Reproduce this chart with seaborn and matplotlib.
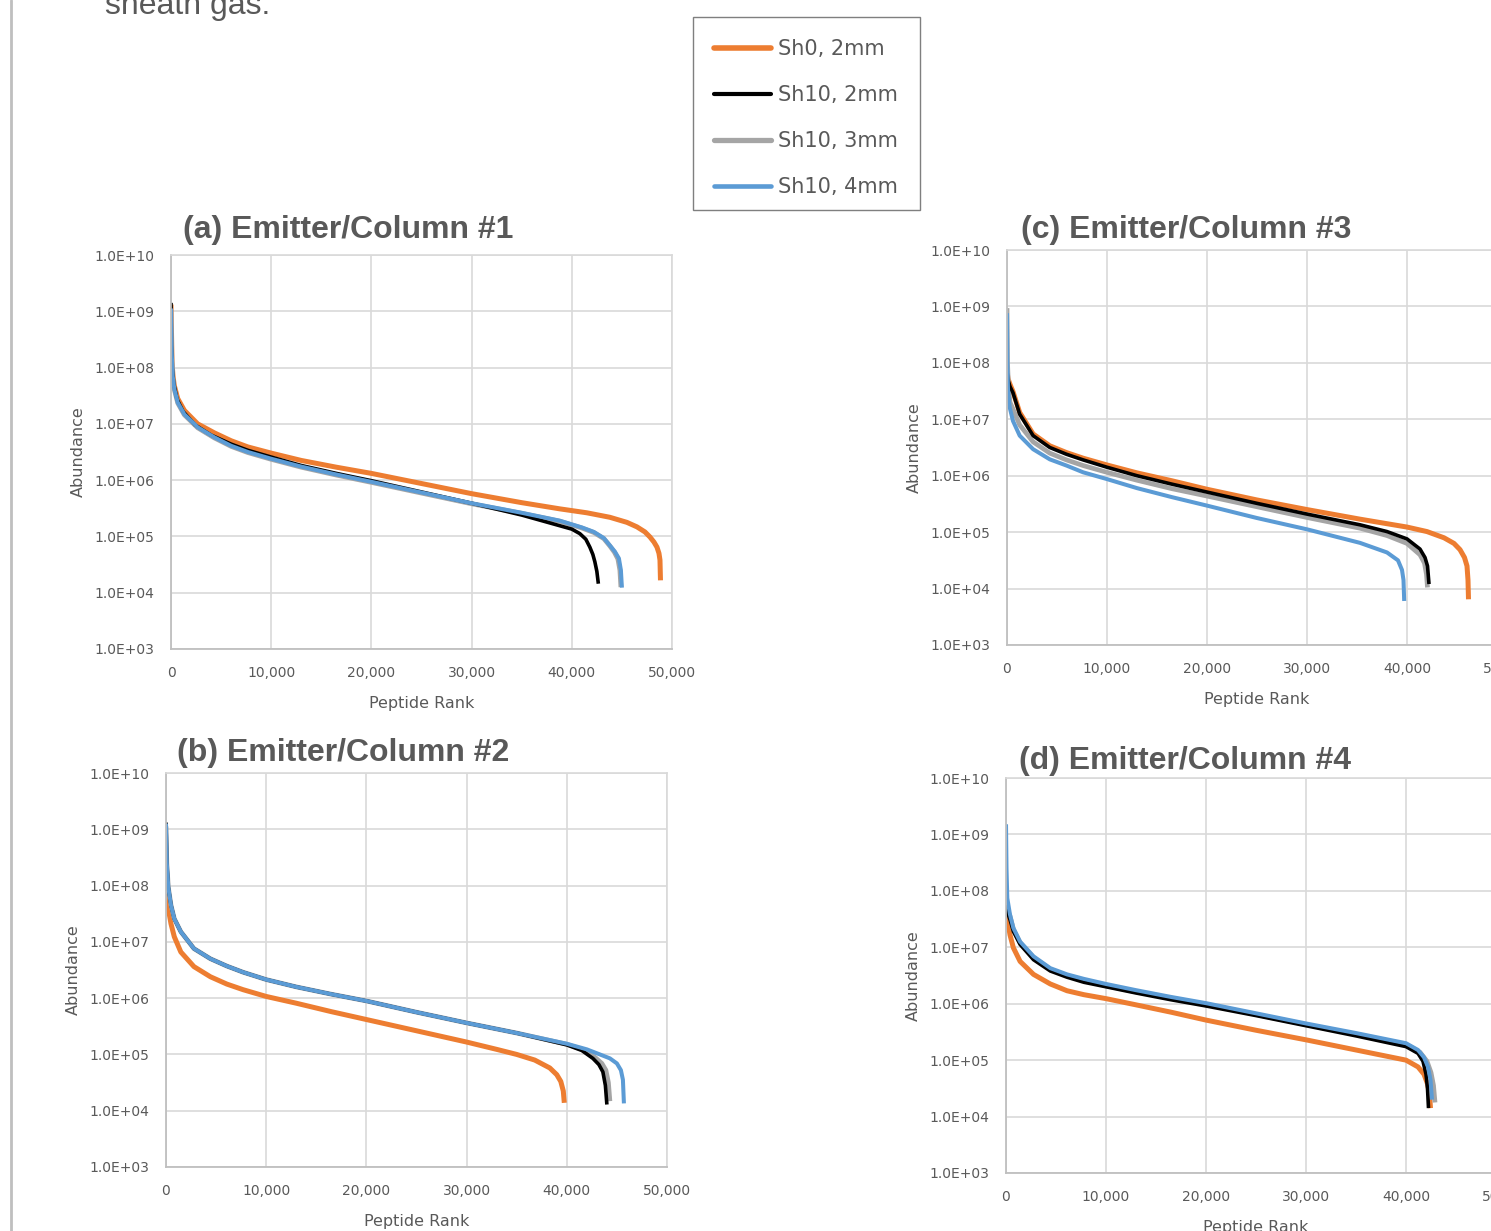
import numpy as np
import matplotlib
matplotlib.use("Agg")
import matplotlib.pyplot as plt
from matplotlib.lines import Line2D
from matplotlib.patches import Rectangle
from matplotlib.ticker import FixedLocator, FuncFormatter, NullLocator
import seaborn as sns

# ---------------- data ----------------
SERIES = ["Sh0, 2mm", "Sh10, 2mm", "Sh10, 3mm", "Sh10, 4mm"]
COLORS = ["#ED7D31", "#000000", "#A5A5A5", "#5B9BD5"]
TITLES = ["(a) Emitter/Column #1", "(b) Emitter/Column #2",
          "(c) Emitter/Column #3", "(d) Emitter/Column #4"]
Y_TICKS = [1e3, 1e4, 1e5, 1e6, 1e7, 1e8, 1e9, 1e10]
X_TICKS = [0, 10000, 20000, 30000, 40000, 50000]

# Panel (a) -- peptide rank and log10(abundance)
A_SH0_RANK = [0, 100, 200, 330, 670, 1330, 2660, 4330, 6000, 7670, 10000, 13000, 16500, 20000, 25000, 30000, 35000, 38800, 41500, 43800, 45500, 46500, 47300, 47800, 48200, 48500, 48700, 48800, 48850]
A_SH0_LOG = [9.12, 8.10, 7.85, 7.68, 7.45, 7.24, 7.00, 6.84, 6.70, 6.59, 6.48, 6.35, 6.23, 6.12, 5.94, 5.76, 5.60, 5.49, 5.42, 5.34, 5.25, 5.17, 5.08, 4.99, 4.90, 4.81, 4.70, 4.58, 4.22]
A_SH10_2_RANK = [0, 40, 120, 270, 600, 1200, 2400, 4000, 6000, 7670, 10000, 13000, 16500, 20000, 25000, 30000, 35000, 38800, 40000, 40800, 41400, 41800, 42100, 42300, 42500, 42650]
A_SH10_2_LOG = [9.15, 8.40, 8.00, 7.72, 7.44, 7.22, 6.98, 6.80, 6.64, 6.53, 6.41, 6.26, 6.12, 5.99, 5.79, 5.59, 5.38, 5.19, 5.13, 5.05, 4.95, 4.81, 4.68, 4.55, 4.38, 4.16]
A_SH10_3_RANK = [0, 60, 170, 330, 670, 1330, 2660, 4330, 6000, 7670, 10000, 13000, 16500, 20000, 25000, 30000, 35000, 38800, 41000, 42200, 43200, 43800, 44250, 44600, 44800, 44900]
A_SH10_3_LOG = [9.02, 8.28, 7.84, 7.61, 7.37, 7.16, 6.93, 6.75, 6.60, 6.49, 6.37, 6.23, 6.09, 5.96, 5.77, 5.58, 5.41, 5.27, 5.15, 5.07, 4.96, 4.83, 4.72, 4.60, 4.40, 4.10]
A_SH10_4_RANK = [0, 60, 170, 330, 670, 1330, 2660, 4330, 6000, 7670, 10000, 13000, 16500, 20000, 25000, 30000, 35000, 38800, 41000, 42200, 43200, 43800, 44300, 44700, 44900, 45000]
A_SH10_4_LOG = [9.05, 8.30, 7.85, 7.62, 7.38, 7.17, 6.94, 6.76, 6.61, 6.50, 6.38, 6.24, 6.10, 5.97, 5.78, 5.59, 5.42, 5.28, 5.16, 5.08, 4.97, 4.84, 4.73, 4.61, 4.40, 4.09]

# Panel (b)
B_SH0_RANK = [0, 100, 230, 500, 830, 1480, 2790, 4430, 6070, 7700, 10000, 13000, 16500, 20000, 25000, 30000, 33000, 35000, 36800, 38300, 39000, 39400, 39650, 39750]
B_SH0_LOG = [7.85, 7.70, 7.59, 7.32, 7.09, 6.82, 6.56, 6.38, 6.25, 6.15, 6.03, 5.91, 5.76, 5.62, 5.42, 5.22, 5.09, 5.00, 4.90, 4.76, 4.64, 4.52, 4.35, 4.14]
B_SH10_2_RANK = [0, 80, 230, 500, 830, 1480, 2790, 4430, 6070, 7700, 10000, 13000, 16500, 20000, 25000, 30000, 35000, 40000, 41500, 42600, 43200, 43600, 43850, 44000]
B_SH10_2_LOG = [9.12, 8.40, 7.97, 7.65, 7.41, 7.18, 6.88, 6.70, 6.57, 6.46, 6.33, 6.20, 6.07, 5.95, 5.75, 5.56, 5.38, 5.17, 5.07, 4.93, 4.82, 4.69, 4.45, 4.11]
B_SH10_3_RANK = [0, 80, 230, 500, 830, 1480, 2790, 4430, 6070, 7700, 10000, 13000, 16500, 20000, 25000, 30000, 35000, 40000, 41700, 42800, 43500, 43900, 44150, 44300]
B_SH10_3_LOG = [9.05, 8.40, 7.97, 7.65, 7.41, 7.18, 6.88, 6.70, 6.57, 6.46, 6.33, 6.20, 6.07, 5.95, 5.75, 5.56, 5.38, 5.18, 5.08, 4.95, 4.84, 4.72, 4.50, 4.17]
B_SH10_4_RANK = [0, 80, 230, 500, 830, 1480, 2790, 4430, 6070, 7700, 10000, 13000, 16500, 20000, 25000, 30000, 35000, 40000, 42000, 43300, 44300, 45000, 45400, 45600, 45700]
B_SH10_4_LOG = [9.10, 8.40, 7.97, 7.65, 7.41, 7.18, 6.88, 6.70, 6.57, 6.46, 6.33, 6.20, 6.07, 5.95, 5.75, 5.56, 5.38, 5.19, 5.09, 5.00, 4.93, 4.84, 4.72, 4.55, 4.13]

# Panel (c)
C_SH0_RANK = [0, 100, 300, 600, 1270, 2610, 4280, 5950, 7620, 10000, 13000, 16500, 20000, 25000, 30000, 35300, 40000, 42000, 43700, 44700, 45300, 45750, 46000, 46100, 46150]
C_SH0_LOG = [7.85, 7.72, 7.62, 7.49, 7.12, 6.74, 6.53, 6.41, 6.31, 6.19, 6.05, 5.91, 5.76, 5.57, 5.40, 5.23, 5.09, 5.01, 4.90, 4.80, 4.69, 4.55, 4.40, 4.15, 3.81]
C_SH10_2_RANK = [0, 100, 300, 600, 1270, 2610, 4280, 5950, 7620, 10000, 13000, 16500, 20000, 25000, 30000, 35300, 38000, 40000, 41300, 41800, 42050, 42200]
C_SH10_2_LOG = [7.85, 7.70, 7.58, 7.47, 7.09, 6.71, 6.50, 6.38, 6.28, 6.15, 6.00, 5.85, 5.71, 5.51, 5.32, 5.13, 5.01, 4.88, 4.70, 4.55, 4.40, 4.08]
C_SH10_3_RANK = [0, 50, 150, 300, 600, 1270, 2610, 4280, 5950, 7620, 10000, 13000, 16500, 20000, 25000, 30000, 35300, 38000, 40000, 41300, 41750, 41950, 42050]
C_SH10_3_LOG = [8.97, 8.00, 7.55, 7.30, 7.18, 6.90, 6.60, 6.40, 6.28, 6.18, 6.06, 5.92, 5.77, 5.64, 5.45, 5.26, 5.07, 4.94, 4.80, 4.60, 4.45, 4.25, 4.02]
C_SH10_4_RANK = [0, 40, 100, 270, 600, 1270, 2610, 4280, 5950, 7620, 10000, 13000, 16500, 20000, 25000, 30000, 35300, 38000, 39100, 39500, 39650, 39720]
C_SH10_4_LOG = [8.88, 8.00, 7.53, 7.21, 6.97, 6.71, 6.47, 6.29, 6.18, 6.06, 5.94, 5.78, 5.62, 5.47, 5.25, 5.05, 4.81, 4.64, 4.50, 4.33, 4.15, 3.78]

# Panel (d)
D_SH0_RANK = [0, 130, 400, 740, 1410, 2750, 4430, 6100, 7790, 10000, 13000, 16500, 20000, 25000, 30000, 35000, 40000, 41200, 41800, 42150, 42350, 42450]
D_SH0_LOG = [7.72, 7.52, 7.22, 6.99, 6.75, 6.52, 6.35, 6.23, 6.16, 6.09, 5.98, 5.85, 5.71, 5.53, 5.36, 5.18, 5.00, 4.88, 4.75, 4.58, 4.40, 4.15]
D_SH10_2_RANK = [0, 150, 400, 740, 1410, 2750, 4430, 6100, 7790, 10000, 13000, 16500, 20000, 25000, 30000, 35000, 40000, 41200, 41700, 42000, 42150, 42250]
D_SH10_2_LOG = [7.75, 7.62, 7.49, 7.28, 7.05, 6.78, 6.58, 6.47, 6.38, 6.30, 6.19, 6.07, 5.96, 5.79, 5.61, 5.43, 5.24, 5.12, 4.98, 4.75, 4.50, 4.15]
D_SH10_3_RANK = [0, 150, 400, 740, 1410, 2750, 4430, 6100, 7790, 10000, 13000, 16500, 20000, 25000, 30000, 35000, 40000, 41400, 42100, 42500, 42750, 42900]
D_SH10_3_LOG = [7.80, 7.66, 7.55, 7.32, 7.08, 6.82, 6.61, 6.50, 6.41, 6.32, 6.21, 6.10, 5.99, 5.81, 5.63, 5.46, 5.28, 5.14, 4.98, 4.78, 4.55, 4.25]
D_SH10_4_RANK = [0, 50, 130, 400, 740, 1410, 2750, 4430, 6100, 7790, 10000, 13000, 16500, 20000, 25000, 30000, 35000, 40000, 41200, 41800, 42200, 42450, 42600]
D_SH10_4_LOG = [9.18, 8.40, 7.87, 7.58, 7.34, 7.10, 6.84, 6.63, 6.52, 6.44, 6.35, 6.24, 6.12, 6.01, 5.83, 5.65, 5.48, 5.30, 5.18, 5.05, 4.88, 4.65, 4.30]

PANEL_DATA = {
    "a": [(A_SH0_RANK, A_SH0_LOG), (A_SH10_2_RANK, A_SH10_2_LOG), (A_SH10_3_RANK, A_SH10_3_LOG), (A_SH10_4_RANK, A_SH10_4_LOG)],
    "b": [(B_SH0_RANK, B_SH0_LOG), (B_SH10_2_RANK, B_SH10_2_LOG), (B_SH10_3_RANK, B_SH10_3_LOG), (B_SH10_4_RANK, B_SH10_4_LOG)],
    "c": [(C_SH0_RANK, C_SH0_LOG), (C_SH10_2_RANK, C_SH10_2_LOG), (C_SH10_3_RANK, C_SH10_3_LOG), (C_SH10_4_RANK, C_SH10_4_LOG)],
    "d": [(D_SH0_RANK, D_SH0_LOG), (D_SH10_2_RANK, D_SH10_2_LOG), (D_SH10_3_RANK, D_SH10_3_LOG), (D_SH10_4_RANK, D_SH10_4_LOG)],
}

# ---------------- styling ----------------
sns.set_theme(style="white")
plt.rcParams["font.family"] = ["DejaVu Sans"]
TXT = "#595959"
LWS = [3.6, 2.6, 3.4, 2.9]
DRAW_ORDER = [0, 2, 1, 3]

W, H = 1491, 1231
fig = plt.figure(figsize=(W / 100, H / 100), dpi=100)
fig.patch.set_facecolor("white")

# axes rectangles in pixels: (left, top, right, bottom)
RECTS = {"a": (171, 255, 672, 649), "b": (166, 773, 667, 1167),
         "c": (1007, 250, 1507, 645), "d": (1006, 778, 1506, 1173)}
TITLE_POS = {"a": (0.353, 1.063), "b": (0.353, 1.050),
             "c": (0.358, 1.050), "d": (0.358, 1.043)}
TITLE_TXT = dict(zip("abcd", TITLES))

for key in "abcd":
    l, t, r, b = RECTS[key]
    ax = fig.add_axes([l / W, 1 - b / H, (r - l) / W, (b - t) / H])
    for i in DRAW_ORDER:
        ranks, logs = PANEL_DATA[key][i]
        sns.lineplot(x=np.array(ranks, dtype=float), y=np.power(10.0, logs),
                     ax=ax, color=COLORS[i], linewidth=LWS[i], sort=False,
                     estimator=None, legend=False, solid_capstyle="butt",
                     solid_joinstyle="round")
    ax.set_yscale("log")
    ax.set_ylim(1e3, 1e10)
    ax.set_xlim(0, 50000)
    ax.yaxis.set_major_locator(FixedLocator(Y_TICKS))
    ax.yaxis.set_minor_locator(NullLocator())
    ax.yaxis.set_major_formatter(FuncFormatter(lambda v, p: "1.0E+%02d" % int(round(np.log10(v)))))
    ax.xaxis.set_major_locator(FixedLocator(X_TICKS))
    ax.xaxis.set_major_formatter(FuncFormatter(lambda v, p: f"{int(v):,}"))
    ax.tick_params(axis="both", length=0, labelsize=10, labelcolor=TXT)
    ax.tick_params(axis="y", pad=12)
    ax.tick_params(axis="x", pad=12)
    ax.grid(True, color="#d9d9d9", linewidth=1.2)
    ax.set_axisbelow(True)
    for s in ["top", "right"]:
        ax.spines[s].set_color("#d9d9d9")
        ax.spines[s].set_linewidth(1.2)
    for s in ["left", "bottom"]:
        ax.spines[s].set_color("#bfbfbf")
        ax.spines[s].set_linewidth(1.3)
    ax.set_xlabel("Peptide Rank", fontsize=11.5, color=TXT)
    ax.set_ylabel("Abundance", fontsize=11.5, color=TXT)
    ax.xaxis.set_label_coords(0.5, -0.119)
    ax.yaxis.set_label_coords(-0.170, 0.5)
    tx, ty = TITLE_POS[key]
    ax.text(tx, ty, TITLE_TXT[key], transform=ax.transAxes, ha="center", va="center",
            fontsize=23, fontweight="bold", family=["Liberation Sans", "DejaVu Sans"], color=TXT)

# page border line on the left
fig.add_artist(Line2D([11 / W, 11 / W], [0, 1], transform=fig.transFigure,
                      color="#bfbfbf", linewidth=2))
# clipped caption at the top
fig.text(105 / W, 1 - 14 / H, "sheath gas.", fontsize=23, color=TXT, va="baseline",
         family=["Liberation Sans", "DejaVu Sans"])

# legend box and entries
fig.add_artist(Rectangle((693 / W, 1 - 210 / H), 227 / W, 193 / H, transform=fig.transFigure,
                         fill=False, edgecolor="#7f7f7f", linewidth=1.0))
handles = [Line2D([0], [0], color=COLORS[i], linewidth=LWS[i] + 0.4) for i in range(4)]
leg = fig.legend(handles, SERIES, loc="upper left", bbox_to_anchor=(714 / W, 1 - 39 / H),
                 bbox_transform=fig.transFigure, borderaxespad=0, fontsize=15,
                 handlelength=2.75, handletextpad=0.3, labelspacing=1.25, borderpad=0,
                 frameon=False, labelcolor=TXT)

fig.savefig("out.png", dpi=100, facecolor="white")
